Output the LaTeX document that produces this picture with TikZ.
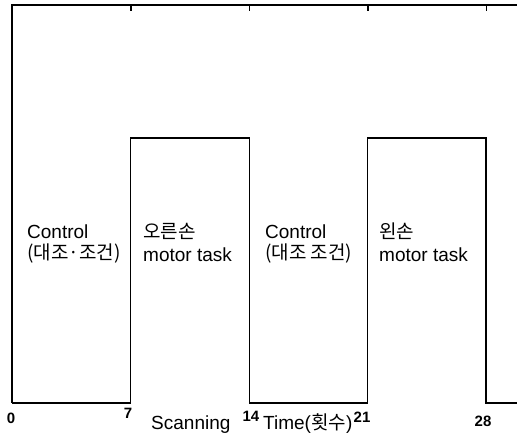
\documentclass[tikz,border=0pt]{standalone}
\usepackage{fontspec}
\setmainfont{Liberation Sans}
\newfontfamily\kr{Noto Sans CJK KR}
\begin{document}
\begin{tikzpicture}[x=1pt,y=-1pt,
  axisline/.style={line width=1.4pt},
  waveline/.style={line width=1.4pt, line join=miter},
  lbl/.style={inner sep=0pt, anchor=base west, font=\fontsize{19}{22}\selectfont},
  ticklbl/.style={inner sep=0pt, anchor=center, font=\fontsize{15}{17}\selectfont\bfseries}]
\useasboundingbox (0,0) rectangle (517,434);
% frame
\coordinate (tl) at (12,5);
\coordinate (tr) at (517,5);
\coordinate (bl) at (12,403);
\draw[axisline] (tr) -- (tl) -- (bl);
% top ticks
\foreach \x in {131,249.3,368,486.5}{\draw[line width=1.2pt] (\x,5) -- (\x,11);}
% waveform
\coordinate (w1) at (130.5,403);
\coordinate (w2) at (130.5,138);
\coordinate (w3) at (249.3,138);
\coordinate (w4) at (249.3,403);
\coordinate (w5) at (367.5,403);
\coordinate (w6) at (367.5,138);
\coordinate (w7) at (486,138);
\coordinate (w8) at (486,403);
\coordinate (br) at (517,403);
\draw[waveline] (bl) -- (w1) -- (w2) -- (w3) -- (w4) -- (w5) -- (w6) -- (w7) -- (w8) -- (br);
% labels
\node[lbl] (c1a) at (27,238) {Control};
\node[lbl] (c1b) at (27,259) {\kr (대조·조건)};
\node[lbl] (r1a) at (143,238) {\kr 오른손};
\node[lbl] (r1b) at (143,261) {motor task};
\node[lbl] (c2a) at (265,238) {Control};
\node[lbl] (c2b) at (265,259) {\kr (대조 조건)};
\node[lbl] (l2a) at (379,238) {\kr 왼손};
\node[lbl] (l2b) at (379,261) {motor task};
% axis labels
\node[ticklbl] (t0) at (11,418) {0};
\node[ticklbl] (t7) at (128,413) {7};
\node[ticklbl] (t14) at (251,416) {14};
\node[ticklbl] (t21) at (362,417) {21};
\node[ticklbl] (t28) at (483,421) {28};
\node[lbl] (scan) at (151,429) {Scanning};
\node[lbl] (time) at (263,429) {Time({\kr 횟수})};
\end{tikzpicture}
\end{document}
